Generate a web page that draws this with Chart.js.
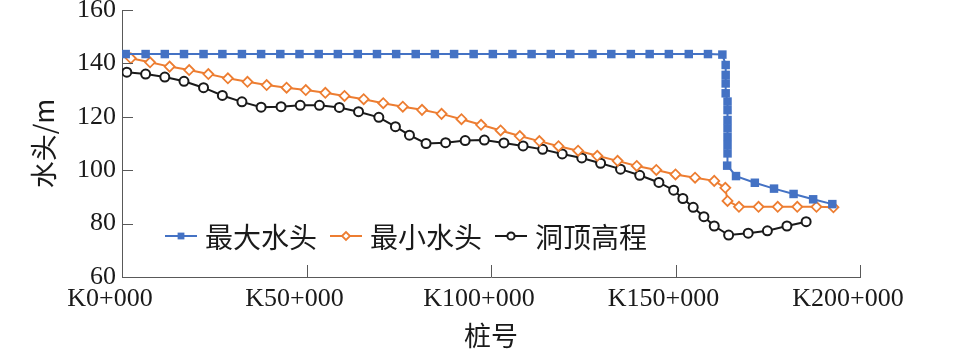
<!DOCTYPE html>
<html>
<head>
<meta charset="utf-8">
<script src="https://cdn.jsdelivr.net/npm/chart.js@4/dist/chart.umd.min.js"></script>
<style>
  html, body { margin: 0; padding: 0; background: #fff; }
  #headChart { display: block; }
</style>
</head>
<body>
<canvas id="headChart" width="957" height="349"></canvas>
<script>
// 桩号 (km) and 水头 values
const maxHeadX = [1.0, 6.4, 11.6, 16.8, 22.1, 27.2, 32.5, 37.7, 42.9, 48.1, 53.3, 58.5, 63.9, 69.1, 74.3, 79.6,
    84.8, 90.0, 95.3, 100.5, 105.8, 111.0, 116.2, 121.5, 127.5, 132.6, 137.9, 143.0, 148.2, 153.6, 158.8, 162.7,
    163.6, 163.6, 163.6, 163.6, 164.1, 164.1, 164.1, 164.1, 164.1, 164.1, 164.1, 164.0,
    166.4, 171.5, 176.7, 182.0, 187.3, 192.5];
const maxHeadY = [143.5, 143.5, 143.5, 143.5, 143.5, 143.5, 143.5, 143.5, 143.5, 143.5, 143.5, 143.5, 143.5, 143.5, 143.5, 143.5,
    143.5, 143.5, 143.5, 143.5, 143.5, 143.5, 143.5, 143.5, 143.5, 143.5, 143.5, 143.5, 143.5, 143.5, 143.5, 143.3,
    139.4, 135.7, 132.5, 128.8, 125.7, 122.5, 118.8, 115.7, 112.5, 109.4, 106.3, 101.7,
    97.8, 95.3, 93.1, 91.1, 89.1, 87.3];

const minHeadX = [2.4, 7.6, 12.9, 18.2, 23.4, 28.7, 34.0, 39.2, 44.6, 49.8, 55.1, 60.3, 65.5, 70.8, 76.1, 81.3,
    86.6, 92.0, 97.3, 102.6, 107.8, 113.1, 118.3, 123.6, 128.8, 134.3, 139.5, 144.8, 150.0, 155.3, 160.5,
    163.5, 164.1, 167.2, 172.5, 177.7, 183.0, 188.2, 192.8];
const minHeadY = [141.9, 140.4, 138.8, 137.5, 136.0, 134.4, 133.1, 131.9, 130.9, 130.0, 129.0, 127.8, 126.6, 125.1, 123.8, 122.6,
    121.1, 119.1, 117.0, 114.9, 112.8, 110.9, 109.0, 107.3, 105.4, 103.5, 101.6, 100.1, 98.4, 97.2, 96.0,
    93.4, 88.5, 86.3, 86.3, 86.3, 86.3, 86.3, 86.1];

const crownX = [1.3, 6.4, 11.6, 16.8, 22.1, 27.2, 32.5, 37.7, 43.1, 48.3, 53.5, 58.9, 64.1, 69.6, 74.1, 77.9,
    82.4, 87.7, 93.0, 98.2, 103.5, 108.7, 114.0, 119.3, 124.6, 129.7, 135.1, 140.3, 145.5, 149.5, 152.0,
    154.8, 157.7, 160.5, 164.4, 169.7, 174.9, 180.2, 185.4];
const crownY = [136.7, 136.0, 134.9, 133.3, 130.9, 128.0, 125.6, 123.6, 123.8, 124.3, 124.3, 123.5, 121.9, 119.8, 116.3, 113.1,
    110.0, 110.3, 111.1, 111.3, 110.2, 109.1, 107.8, 106.1, 104.6, 102.6, 100.4, 98.1, 95.4, 92.5, 89.4,
    86.1, 82.6, 79.1, 75.7, 76.4, 77.3, 79.1, 80.7];

const seriesNames = ['最大水头', '最小水头', '洞顶高程'];
const xTickLabels = ['K0+000', 'K50+000', 'K100+000', 'K150+000', 'K200+000'];
const yTicks = [60, 80, 100, 120, 140, 160];

function toPoints(xs, ys) {
    return xs.map((x, i) => ({ x: x, y: ys[i] }));
}

const serifFont = '"Liberation Serif", "Times New Roman", serif';
const cjkFont = '"Noto Sans CJK SC", "Noto Sans", sans-serif';
const axisColor = '#595959';
const textColor = '#1a1a1a';

// inward tick marks on the two axes
const innerTicks = {
    id: 'innerTicks',
    afterDraw(chart) {
        const { ctx, chartArea, scales } = chart;
        ctx.save();
        ctx.strokeStyle = axisColor;
        ctx.lineWidth = 1;
        ctx.beginPath();
        scales.x.ticks.forEach(t => {
            const px = Math.round(scales.x.getPixelForValue(t.value)) + 0.5;
            ctx.moveTo(px, chartArea.bottom);
            ctx.lineTo(px, chartArea.bottom - 12);
        });
        scales.y.ticks.forEach(t => {
            const py = Math.round(scales.y.getPixelForValue(t.value)) + 0.5;
            ctx.moveTo(chartArea.left, py);
            ctx.lineTo(chartArea.left + 11, py);
        });
        ctx.stroke();
        ctx.restore();
    }
};

// legend drawn inside the plot, lower left
const innerLegend = {
    id: 'innerLegend',
    afterDraw(chart) {
        const { ctx, chartArea } = chart;
        let x = chartArea.left + 43;
        const y = 236;
        ctx.save();
        ctx.font = '28px ' + cjkFont;
        ctx.textBaseline = 'middle';
        chart.data.datasets.forEach(ds => {
            ctx.strokeStyle = ds.borderColor;
            ctx.lineWidth = 2;
            ctx.beginPath();
            ctx.moveTo(x, y);
            ctx.lineTo(x + 32, y);
            ctx.stroke();
            ctx.fillStyle = ds.pointBackgroundColor;
            ctx.strokeStyle = ds.pointBorderColor;
            ctx.lineWidth = ds.pointBorderWidth;
            Chart.helpers.drawPoint(ctx, {
                pointStyle: ds.pointStyle,
                radius: ds.pointRadius * 0.8,
                borderWidth: ds.pointBorderWidth
            }, x + 16, y);
            ctx.fillStyle = textColor;
            ctx.fillText(ds.label, x + 40, y + 1);
            x += 40 + ctx.measureText(ds.label).width + 13;
        });
        ctx.restore();
    }
};

let ctx = document.getElementById('headChart').getContext('2d');
let headChart = new Chart(ctx, {
    type: 'line',
    data: {
        datasets: [{
            label: seriesNames[0],
            data: toPoints(maxHeadX, maxHeadY),
            borderColor: '#4472C4',
            borderWidth: 2,
            pointStyle: 'rect',
            pointRadius: 6,
            pointBorderWidth: 0,
            pointBackgroundColor: '#4472C4',
            pointBorderColor: '#4472C4'
        }, {
            label: seriesNames[1],
            data: toPoints(minHeadX, minHeadY),
            borderColor: '#ED7D31',
            borderWidth: 2,
            pointStyle: 'rectRot',
            pointRadius: 5,
            pointBorderWidth: 1.8,
            pointBackgroundColor: '#ffffff',
            pointBorderColor: '#ED7D31'
        }, {
            label: seriesNames[2],
            data: toPoints(crownX, crownY),
            borderColor: '#1a1a1a',
            borderWidth: 2,
            pointStyle: 'circle',
            pointRadius: 4.5,
            pointBorderWidth: 2,
            pointBackgroundColor: '#ffffff',
            pointBorderColor: '#1a1a1a'
        }]
    },
    options: {
        responsive: false,
        devicePixelRatio: 1,
        animation: false,
        layout: {
            padding: { left: 0, top: 10, right: 97, bottom: 0 }
        },
        plugins: {
            legend: { display: false },
            tooltip: { enabled: false }
        },
        scales: {
            x: {
                type: 'linear',
                min: 0,
                max: 200,
                border: { display: true, color: axisColor, width: 1 },
                grid: { display: false, drawTicks: false },
                ticks: {
                    stepSize: 50,
                    padding: 9,
                    labelOffset: -12,
                    maxRotation: 0,
                    color: textColor,
                    font: { family: serifFont, size: 26, lineHeight: 1 },
                    callback: (v, i) => xTickLabels[i]
                },
                title: {
                    display: true,
                    text: '桩号',
                    color: textColor,
                    padding: { top: 0, bottom: 0 },
                    font: { family: cjkFont, size: 27, lineHeight: 1 }
                },
                afterFit(s) {
                    s.height = 72;
                    s.paddingLeft = 0;
                    s.paddingRight = 0;
                }
            },
            y: {
                min: 60,
                max: 160,
                border: { display: true, color: axisColor, width: 1 },
                grid: { display: false, drawTicks: false },
                afterBuildTicks(s) {
                    s.ticks = yTicks.map(v => ({ value: v }));
                },
                ticks: {
                    padding: 6,
                    color: textColor,
                    font: { family: serifFont, size: 26, lineHeight: 1 }
                },
                title: {
                    display: true,
                    text: '水头/m',
                    color: textColor,
                    padding: { top: 28, bottom: 0 },
                    font: { family: cjkFont, size: 27, lineHeight: 1.2 }
                },
                afterFit(s) {
                    s.width = 122;
                    s.paddingTop = 0;
                    s.paddingBottom = 0;
                }
            }
        }
    },
    plugins: [innerTicks, innerLegend]
});
</script>
</body>
</html>
